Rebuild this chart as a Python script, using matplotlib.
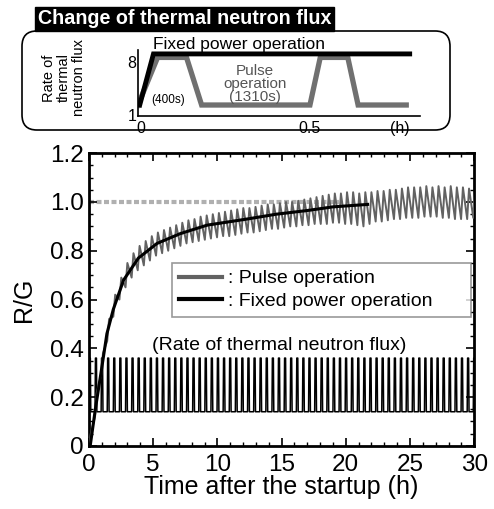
import numpy as np
import matplotlib
matplotlib.use('Agg')
import matplotlib.pyplot as plt
from matplotlib.patches import FancyBboxPatch
from matplotlib.lines import Line2D

plt.rcParams['font.family'] = ['Liberation Sans', 'DejaVu Sans']

# operation schedule (s)
ramp_s = 120
high_s = 400
low_s = 1310
flux_low = 0.14
flux_high = 0.36

# fixed power operation R/G
fixed_t = [0.1, 0.5, 1.0, 1.4, 1.9, 2.7, 3.85, 5.3, 7.1, 9.2, 12.3, 14.6, 17.0, 19.0, 21.7]
fixed_rg = [0.0, 0.15, 0.32, 0.46, 0.56, 0.68, 0.77, 0.83, 0.87, 0.905, 0.93, 0.95, 0.965, 0.98, 0.99]

# pulse operation R/G: value at start of each pulse and at its end
pulse_trough = [0.0, 0.12, 0.29, 0.43, 0.53, 0.60, 0.65, 0.69, 0.72, 0.74,
                0.76, 0.78, 0.79, 0.80, 0.81, 0.82, 0.83, 0.835, 0.84, 0.845,
                0.85, 0.855, 0.86, 0.86, 0.865, 0.87, 0.875, 0.875, 0.88, 0.885,
                0.89, 0.89, 0.895, 0.90, 0.90, 0.905, 0.905, 0.91, 0.91, 0.91,
                0.915, 0.915, 0.91, 0.91, 0.905, 0.90, 0.91, 0.92, 0.92, 0.925,
                0.93, 0.93, 0.935, 0.935, 0.935, 0.94, 0.94, 0.94, 0.935, 0.935,
                0.93, 0.93, 0.93, 0.935]
pulse_peak = [0.05, 0.22, 0.38, 0.52, 0.62, 0.69, 0.75, 0.79, 0.82, 0.84,
              0.86, 0.875, 0.885, 0.895, 0.905, 0.915, 0.925, 0.93, 0.94, 0.945,
              0.95, 0.955, 0.96, 0.965, 0.97, 0.975, 0.975, 0.98, 0.985, 0.99,
              0.99, 0.995, 1.0, 1.0, 1.005, 1.01, 1.015, 1.02, 1.025, 1.03,
              1.035, 1.035, 1.04, 1.04, 1.035, 1.04, 1.04, 1.045, 1.045, 1.05,
              1.05, 1.055, 1.06, 1.06, 1.06, 1.065, 1.06, 1.065, 1.06, 1.065,
              1.06, 1.06, 1.055, 1.06]

# inset curves
inset_fixed_t = [0.005, 0.045, 0.79]
inset_fixed_v = [1, 8.3, 8.3]
inset_pulse_t = [0.0, 0.057, 0.141, 0.185, 0.5, 0.53, 0.61, 0.64, 0.78]
inset_pulse_v = [1, 7.8, 7.8, 1, 1, 7.8, 7.8, 1, 1]

period = (high_s + low_s) / 3600.0
ramp = ramp_s / 3600.0
hold = (high_s - ramp_s) / 3600.0

flux_t = [0.0]
flux_v = [0.0]
rg_t = []
rg_v = []
for k in range(len(pulse_peak)):
    t0 = k * period
    flux_t += [t0, t0 + ramp, t0 + ramp + hold, t0 + 2 * ramp + hold]
    flux_v += [flux_low, flux_high, flux_high, flux_low]
    rg_t += [t0, t0 + 2 * ramp + hold]
    rg_v += [pulse_trough[k], pulse_peak[k]]

fig = plt.figure(figsize=(4.94, 5.09), dpi=100)

# main chart
ax = fig.add_axes([0.180, 0.124, 0.780, 0.575])
ax.plot([0, 19.5], [1.0, 1.0], color='#b0b0b0', lw=3, ls=(0, (1.2, 0.6)), zorder=1)
ax.plot(flux_t, flux_v, color='black', lw=1.1, zorder=2)
ax.plot(rg_t, rg_v, color='#626262', lw=1.4, zorder=3)
ax.plot(fixed_t, fixed_rg, color='black', lw=2.2, zorder=4)
ax.set_xlim(0, 30)
ax.set_ylim(0, 1.2)
ax.set_xticks([0, 5, 10, 15, 20, 25, 30])
ax.set_xticks(np.arange(0, 31, 1), minor=True)
ax.set_yticks([0, 0.2, 0.4, 0.6, 0.8, 1.0, 1.2])
ax.set_yticklabels(['0', '0.2', '0.4', '0.6', '0.8', '1.0', '1.2'])
ax.set_yticks(np.arange(0, 1.21, 0.05), minor=True)
ax.tick_params(which='both', direction='in', top=True, right=True, labelsize=17.5)
ax.tick_params(which='major', length=6, width=1.2)
ax.tick_params(axis='x', which='major', pad=6)
ax.tick_params(which='minor', length=3, width=1)
for s in ax.spines.values():
    s.set_linewidth(2)
ax.set_xlabel('Time after the startup (h)', fontsize=18, labelpad=-1)
ax.set_ylabel('R/G', fontsize=18, labelpad=10)
ax.text(14.8, 0.41, '(Rate of thermal neutron flux)', fontsize=14, ha='center', va='center')

handles = [Line2D([], [], color='#626262', lw=3), Line2D([], [], color='black', lw=3)]
leg = ax.legend(handles, [': Pulse operation', ': Fixed power operation'],
                loc='upper left', bbox_to_anchor=(0.216, 0.437, 0.776, 0.188),
                mode='expand', borderaxespad=0, fontsize=14, frameon=True, fancybox=False,
                handlelength=2.2, handletextpad=0.3, borderpad=0.35, labelspacing=0.25)
leg.get_frame().set_edgecolor('#808080')
leg.get_frame().set_linewidth(1.2)

# inset box and title
box = FancyBboxPatch((22 / 494, 1 - 130 / 509), 428 / 494, 99 / 509,
                     boxstyle='round,pad=0,rounding_size=0.03', transform=fig.transFigure,
                     facecolor='none', edgecolor='black', lw=1.2, zorder=0)
fig.patches.append(box)
fig.text(38 / 494, 1 - 19 / 509, 'Change of thermal neutron flux', color='white',
         fontsize=14.2, fontweight='bold', va='center', ha='left',
         bbox=dict(facecolor='black', edgecolor='black', pad=2))

ins = fig.add_axes([138 / 494, 1 - 116 / 509, 282 / 494, 66 / 509])
ins.set_facecolor('none')
ins.plot(inset_pulse_t, inset_pulse_v, color='#707070', lw=3.8, solid_joinstyle='miter')
ins.plot(inset_fixed_t, inset_fixed_v, color='black', lw=3.5, solid_joinstyle='miter')
ins.set_xlim(0, 0.82)
ins.set_ylim(-0.57, 8.86)
ins.set_xticks([])
ins.set_yticks([])
ins.spines['top'].set_visible(False)
ins.spines['right'].set_visible(False)
ins.spines['left'].set_linewidth(1.2)
ins.spines['bottom'].set_linewidth(1.2)

fs = 11.5
ins.text(0.294, 9.6, 'Fixed power operation', fontsize=12.5, ha='center', va='center', clip_on=False)
ins.text(0.34, 4.0, 'Pulse\noperation\n(1310s)', fontsize=11, ha='center', va='center',
         color='#555555', linespacing=0.9)
ins.text(0.087, 1.7, '(400s)', fontsize=8.5, ha='center', va='center')
ins.text(0.76, -2.4, '(h)', fontsize=fs, ha='center', va='center', clip_on=False)
ins.text(0.008, -2.4, '0', fontsize=fs, ha='center', va='center', clip_on=False)
ins.text(0.5, -2.4, '0.5', fontsize=fs, ha='center', va='center', clip_on=False)
ins.text(-0.018, 7.0, '8', fontsize=fs, ha='center', va='center', clip_on=False)
ins.text(-0.018, -0.6, '1', fontsize=fs, ha='center', va='center', clip_on=False)
fig.text(64 / 494, 1 - 78 / 509, 'Rate of\nthermal\nneutron flux', fontsize=10.5,
         rotation=90, ha='center', va='center', linespacing=1.1)

fig.savefig('out.png', dpi=100)
